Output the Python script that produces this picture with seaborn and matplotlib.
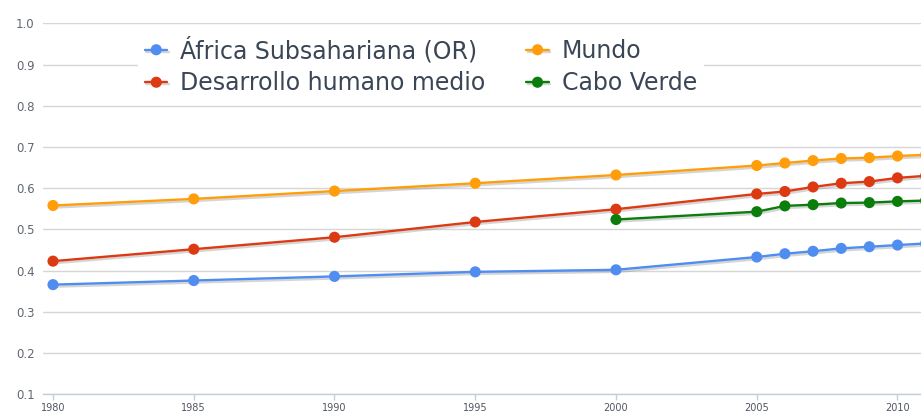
import pandas as pd
import matplotlib.pyplot as plt
import matplotlib.patheffects as pe
import seaborn as sns

# valores (IDH)
years = [1980, 1985, 1990, 1995, 2000, 2005, 2006, 2007, 2008, 2009, 2010, 2011]
africa = [0.366, 0.376, 0.386, 0.397, 0.402, 0.433, 0.441, 0.447, 0.454, 0.458, 0.462, 0.466]
medio = [0.423, 0.452, 0.481, 0.518, 0.549, 0.586, 0.592, 0.603, 0.612, 0.616, 0.625, 0.630]
mundo = [0.558, 0.574, 0.593, 0.612, 0.632, 0.655, 0.661, 0.667, 0.672, 0.674, 0.678, 0.681]
cv_years = [2000, 2005, 2006, 2007, 2008, 2009, 2010, 2011]
cabo_verde = [0.524, 0.543, 0.557, 0.560, 0.564, 0.565, 0.568, 0.570]

names = ['África Subsahariana (OR)', 'Desarrollo humano medio', 'Mundo', 'Cabo Verde']
colors = ['#4F8DF0', '#DC3A12', '#FF9D0A', '#0A7D0A']

frames = [
    pd.DataFrame({'year': years, 'idh': africa, 'serie': names[0]}),
    pd.DataFrame({'year': years, 'idh': medio, 'serie': names[1]}),
    pd.DataFrame({'year': years, 'idh': mundo, 'serie': names[2]}),
    pd.DataFrame({'year': cv_years, 'idh': cabo_verde, 'serie': names[3]}),
]
df = pd.concat(frames, ignore_index=True)

sns.set_style('white')
plt.rcParams['font.family'] = ['DejaVu Sans']

fig = plt.figure(figsize=(9.21, 4.12), dpi=100)
ax = fig.add_axes([43 / 921, 17.7 / 412, 1 - 43 / 921, (394.3 - 23.3) / 412])

sns.lineplot(data=df, x='year', y='idh', hue='serie', hue_order=names,
             palette=dict(zip(names, colors)), marker='o', markersize=8,
             markeredgewidth=0, linewidth=1.7, dashes=False, ax=ax, zorder=3)

for line in ax.lines:
    line.set_path_effects([pe.SimpleLineShadow(offset=(1, -1.5), shadow_color='#888888', alpha=0.35),
                           pe.Normal()])

ax.set_xlim(1979.645, 2010.835)
ax.set_ylim(0.1, 1.0)
ax.set_xticks([1980, 1985, 1990, 1995, 2000, 2005, 2010])
ax.set_yticks([0.1, 0.2, 0.3, 0.4, 0.5, 0.6, 0.7, 0.8, 0.9, 1.0])
ax.set_yticklabels(['0.1', '0.2', '0.3', '0.4', '0.5', '0.6', '0.7', '0.8', '0.9', '1.0'])
ax.grid(axis='y', color='#D6D6D6', linewidth=1)
ax.set_axisbelow(True)
ax.set_xlabel('')
ax.set_ylabel('')

for s in ['top', 'right', 'left']:
    ax.spines[s].set_visible(False)
ax.spines['bottom'].set_color('#C0D0E0')
ax.spines['bottom'].set_linewidth(1)
ax.spines['bottom'].set_zorder(4)

ax.tick_params(axis='y', length=0, pad=6, labelsize=8.5, labelcolor='#606770')
ax.tick_params(axis='x', length=4, width=1, color='#C0D0E0', pad=2,
               labelsize=7, labelcolor='#505560', bottom=True)

leg = ax.legend(loc='center', bbox_to_anchor=(421 / 921, 1 - 66 / 412),
                bbox_transform=fig.transFigure, ncol=2, fontsize=17,
                frameon=True, facecolor='white', edgecolor='none', framealpha=1,
                handlelength=0.95, handletextpad=0.55, columnspacing=1.72,
                labelspacing=0.36, borderpad=0.3, fancybox=False)
for t in leg.get_texts():
    t.set_color('#3A4555')

fig.savefig('out.png', dpi=100)
